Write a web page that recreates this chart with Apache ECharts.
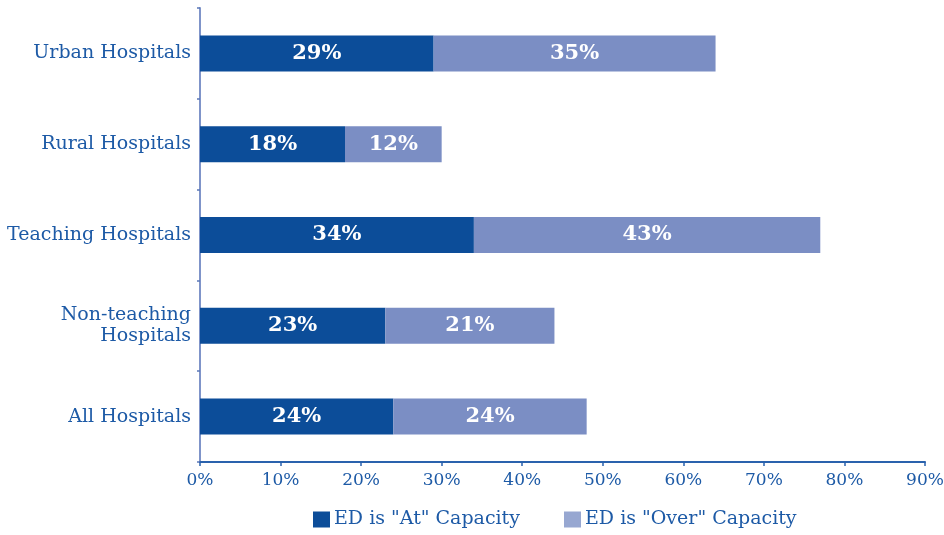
<!DOCTYPE html>
<html>
<head>
<meta charset="utf-8">
<script src="https://cdn.jsdelivr.net/npm/echarts@6/dist/echarts.min.js"></script>
<style>
  html, body { margin: 0; padding: 0; background: #ffffff; }
  #chart { width: 944px; height: 535px; }
</style>
</head>
<body>
<div id="chart"></div>
<script>
// Hospital groups, listed bottom to top on the category axis
const categories = ['All Hospitals', 'Non-teaching\nHospitals', 'Teaching Hospitals', 'Rural Hospitals', 'Urban Hospitals'];
// Share of emergency departments at capacity (%)
const atCapacity = [24, 23, 34, 18, 29];
// Share of emergency departments over capacity (%)
const overCapacity = [24, 21, 43, 12, 35];
const xTicks = { min: 0, max: 90, step: 10 };

const SERIF = '"DejaVu Serif", "Liberation Serif", serif';
const TEXT_BLUE = '#1d5aa6';
const DARK = '#0c4d99';
const LIGHT = '#7b8ec4';

const chart = echarts.init(document.getElementById('chart'), null, { renderer: 'canvas' });

const barLabel = {
  show: true,
  position: 'inside',
  color: '#ffffff',
  fontFamily: SERIF,
  fontWeight: 'bold',
  fontSize: 21,
  formatter: p => p.value + '%'
};

chart.setOption({
  animation: false,
  backgroundColor: '#ffffff',
  grid: { left: 200, right: 19, top: 8, bottom: 73, outerBoundsMode: 'none' },
  legend: {
    bottom: 1,
    left: 308,
    icon: 'rect',
    itemWidth: 17,
    itemHeight: 16,
    itemGap: 44,
    textStyle: { fontFamily: SERIF, fontSize: 19, color: TEXT_BLUE, padding: [2, 0, 0, -1] },
    data: [
      { name: 'ED is "At" Capacity', itemStyle: { color: DARK } },
      { name: 'ED is "Over" Capacity', itemStyle: { color: '#97a7d1' } }
    ]
  },
  xAxis: {
    type: 'value',
    min: xTicks.min,
    max: xTicks.max,
    interval: xTicks.step,
    splitLine: { show: false },
    axisLine: { show: true, lineStyle: { color: '#2a62ad', width: 2 } },
    axisTick: { show: true, length: 4, lineStyle: { color: '#2a62ad', width: 1.5 } },
    axisLabel: {
      margin: 10,
      fontFamily: SERIF,
      fontSize: 17,
      color: TEXT_BLUE,
      formatter: '{value}%'
    }
  },
  yAxis: {
    type: 'category',
    data: categories,
    axisLine: { show: true, lineStyle: { color: '#7f94c9', width: 2 } },
    axisTick: { show: true, length: 3, lineStyle: { color: '#5a77b8', width: 1.5 } },
    axisLabel: {
      margin: 9,
      fontFamily: SERIF,
      fontSize: 19,
      lineHeight: 21,
      color: TEXT_BLUE,
      align: 'right',
      padding: [8, 0, 0, 0]
    }
  },
  series: [
    {
      name: 'ED is "At" Capacity',
      type: 'bar',
      stack: 'ed',
      barWidth: 36,
      data: atCapacity,
      itemStyle: { color: DARK },
      label: barLabel
    },
    {
      name: 'ED is "Over" Capacity',
      type: 'bar',
      stack: 'ed',
      barWidth: 36,
      data: overCapacity,
      itemStyle: { color: LIGHT },
      label: barLabel
    }
  ]
});
</script>
</body>
</html>
